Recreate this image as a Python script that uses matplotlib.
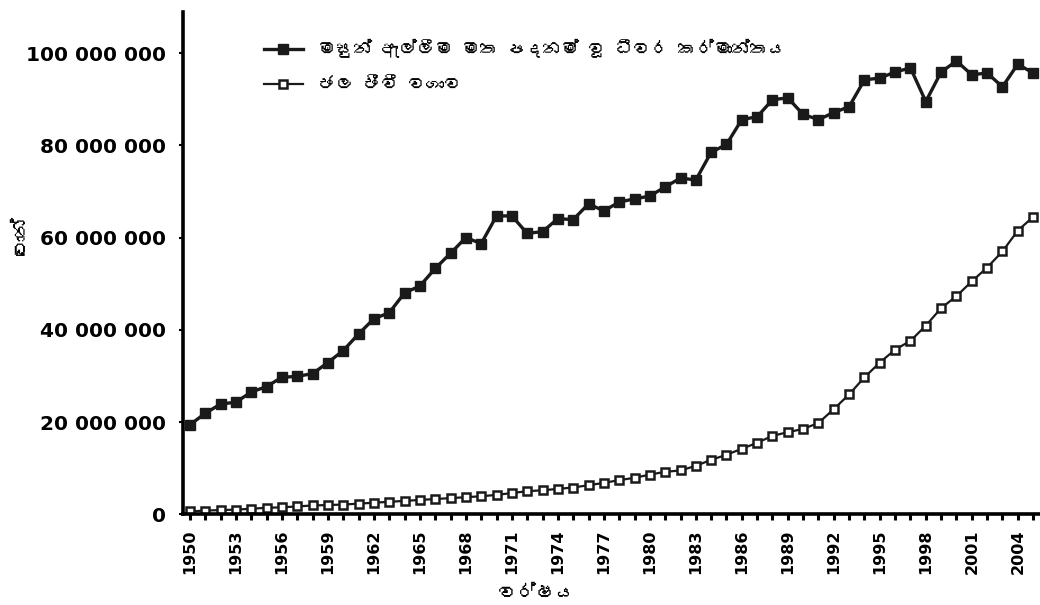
import matplotlib
matplotlib.use("Agg")
import matplotlib.pyplot as plt
from matplotlib import font_manager
from matplotlib.ft2font import FT2Font
from matplotlib.ticker import MultipleLocator, FuncFormatter

# ── Data (tonnes) ───────────────────────────────────────────────────────────
years = list(range(1950, 2006))
capture = [19.4, 21.9, 23.9, 24.3, 26.5, 27.7, 29.7, 29.9, 30.5, 32.9,
           35.5, 39.1, 42.4, 43.7, 48.0, 49.5, 53.3, 56.6, 60.0, 58.7,
           64.7, 64.7, 60.9, 61.3, 64.1, 63.9, 67.3, 65.8, 67.7, 68.4,
           69.0, 71.0, 72.9, 72.5, 78.5, 80.2, 85.6, 86.2, 89.9, 90.3,
           86.7, 85.6, 87.1, 88.4, 94.2, 94.6, 95.9, 96.8, 89.5, 95.9,
           98.3, 95.3, 95.7, 92.7, 97.6, 95.7]
aquaculture = [0.6, 0.8, 0.9, 1.0, 1.2, 1.4, 1.5, 1.7, 1.9, 2.0,
               2.1, 2.3, 2.5, 2.7, 2.9, 3.1, 3.3, 3.5, 3.7, 3.9,
               4.2, 4.6, 5.0, 5.2, 5.5, 5.8, 6.3, 6.8, 7.4, 7.9,
               8.6, 9.2, 9.5, 10.5, 11.8, 12.9, 14.2, 15.5, 17.0, 17.8,
               18.5, 19.8, 22.8, 26.0, 29.7, 32.9, 35.7, 37.6, 40.9, 44.7,
               47.3, 50.5, 53.5, 57.0, 61.5, 64.5]
capture = [v * 1e6 for v in capture]
aquaculture = [v * 1e6 for v in aquaculture]

label_capture = "මසුන් ඇල්ලීම මත පදනම් වූ ධීවර කර්මාන්තය"
label_aqua = "ජල ජීවී වගාව"
xlabel = "වර්ෂය"
ylabel = "ටොන්"


# ── Find a font that has Sinhala glyphs ─────────────────────────────────────
def sinhala_font():
    for f in font_manager.fontManager.ttflist:
        try:
            cmap = FT2Font(f.fname).get_charmap()
        except Exception:
            continue
        if 0x0DB8 in cmap and 0x0DCA in cmap:
            return f.name
    return None

sin = sinhala_font()
families = [sin, "DejaVu Sans"] if sin else ["DejaVu Sans"]
plt.rcParams["font.family"] = families

# ── Plot ────────────────────────────────────────────────────────────────────
fig = plt.figure(figsize=(10.4, 6.05), dpi=100)
ax = fig.add_axes([0.176, 0.150, 0.824, 0.830])

ax.plot(years, capture, "-s", color="#1a1a1a", linewidth=2.4,
        markersize=7.8, markerfacecolor="#1a1a1a", markeredgecolor="#1a1a1a",
        label=label_capture)
ax.plot(years, aquaculture, "-s", color="#1a1a1a", linewidth=1.6,
        markersize=5.6, markerfacecolor="white", markeredgecolor="#1a1a1a",
        markeredgewidth=1.8, label=label_aqua)

ax.set_xlim(1949.55, 2005.45)
ax.set_ylim(0, 108.9e6)

ax.xaxis.set_major_locator(MultipleLocator(3))
ax.xaxis.set_minor_locator(MultipleLocator(1))
ax.yaxis.set_major_locator(MultipleLocator(20e6))
ax.yaxis.set_major_formatter(
    FuncFormatter(lambda v, p: f"{v:,.0f}".replace(",", " ")))

ax.tick_params(axis="x", which="both", direction="out", length=4, width=2.2,
               labelsize=11.5, pad=7)
ax.tick_params(axis="x", which="major", labelrotation=90)
ax.tick_params(axis="y", direction="out", length=3, width=1.5,
               labelsize=14.5, pad=9)
for lbl in ax.get_xticklabels() + ax.get_yticklabels():
    lbl.set_fontweight("bold")
    lbl.set_family("DejaVu Sans")

for s in ["top", "right"]:
    ax.spines[s].set_visible(False)
for s in ["left", "bottom"]:
    ax.spines[s].set_linewidth(2.6)

ax.set_xlabel(xlabel, fontsize=14)
ax.set_ylabel(ylabel, fontsize=14)
ax.xaxis.set_label_coords(0.413, -0.14)
ax.yaxis.set_label_coords(-0.178, 0.556)

ax.legend(loc="upper left", bbox_to_anchor=(0.075, 0.978), frameon=False,
          fontsize=13, handlelength=2.2, labelspacing=1.0)

fig.savefig("out.png", dpi=100)
